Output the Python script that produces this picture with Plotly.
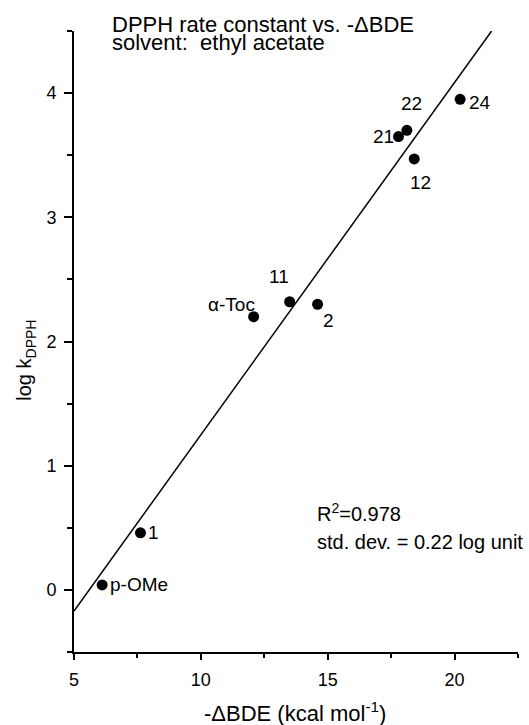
import plotly.graph_objects as go

# ---- data ----
compounds = ["p-OMe", "1", "α-Toc", "11", "2", "21", "22", "12", "24"]
neg_dBDE = [6.11, 7.62, 12.08, 13.50, 14.60, 17.79, 18.12, 18.41, 20.22]
log_k = [0.04, 0.46, 2.20, 2.32, 2.30, 3.65, 3.70, 3.47, 3.95]

fit_x = [5.0, 21.46]
fit_y = [-0.17, 4.50]

x_ticks = [5, 10, 15, 20]
y_ticks = [0, 1, 2, 3, 4]

# ---- label placement (pixel offsets) ----
label_pos = {
    "p-OMe": dict(xanchor="left", xshift=6, yshift=0),
    "1": dict(xanchor="left", xshift=6, yshift=0),
    "α-Toc": dict(xanchor="right", xshift=3, yshift=12),
    "11": dict(xanchor="center", xshift=-11, yshift=25),
    "2": dict(xanchor="center", xshift=11, yshift=-16),
    "21": dict(xanchor="right", xshift=-3, yshift=0),
    "22": dict(xanchor="center", xshift=5, yshift=27),
    "12": dict(xanchor="center", xshift=6, yshift=-24),
    "24": dict(xanchor="left", xshift=7, yshift=-3),
}

FONT = "Liberation Sans, Arial, Helvetica, sans-serif"

fig = go.Figure()
fig.add_trace(go.Scatter(x=fit_x, y=fit_y, mode="lines",
                         line=dict(color="black", width=1.5),
                         hoverinfo="skip", showlegend=False))
fig.add_trace(go.Scatter(x=neg_dBDE, y=log_k, mode="markers",
                         marker=dict(color="black", size=11),
                         showlegend=False, cliponaxis=False))

annotations = []
for name, xv, yv in zip(compounds, neg_dBDE, log_k):
    p = label_pos[name]
    annotations.append(dict(x=xv, y=yv, xref="x", yref="y", text=name,
                            showarrow=False, yanchor="middle",
                            font=dict(family=FONT, size=19, color="black"), **p))

texts = [
    ("DPPH rate constant vs. -ΔBDE", 0.082, 1.010, 22),
    ("solvent:  ethyl acetate", 0.082, 0.981, 22),
    ("R<sup>2</sup>=0.978", 0.543, 0.225, 20),
    ("std. dev. = 0.22 log unit", 0.543, 0.177, 20),
]
for t, xp, yp, fs in texts:
    annotations.append(dict(x=xp, y=yp, xref="paper", yref="paper", text=t,
                            showarrow=False, xanchor="left", yanchor="middle",
                            font=dict(family=FONT, size=fs, color="black")))

# axis titles
annotations.append(dict(x=0.498, y=-0.096, xref="paper", yref="paper",
                        text="-ΔBDE (kcal mol<sup>-1</sup>)", showarrow=False,
                        xanchor="center", yanchor="middle",
                        font=dict(family=FONT, size=22, color="black")))
annotations.append(dict(x=-0.109, y=0.470, xref="paper", yref="paper",
                        text="log k<sub>DPPH</sub>", showarrow=False, textangle=-90,
                        xanchor="center", yanchor="middle",
                        font=dict(family=FONT, size=20, color="black")))

fig.update_layout(
    width=529, height=725,
    margin=dict(l=74, r=11, t=31, b=73, autoexpand=False),
    paper_bgcolor="white", plot_bgcolor="white",
    font=dict(family=FONT, color="black"),
    annotations=annotations,
    xaxis=dict(range=[5, 22.5], showgrid=False, zeroline=False, automargin=False,
               showline=True, linewidth=2, linecolor="black",
               ticks="outside", ticklen=6, tickwidth=1.5, tickcolor="black",
               tickvals=x_ticks, ticklabelstandoff=4,
               tickfont=dict(size=18),
               minor=dict(dtick=2.5, tick0=5, ticks="outside", ticklen=4,
                          tickwidth=1.5, tickcolor="black", showgrid=False)),
    yaxis=dict(range=[-0.5, 4.5], showgrid=False, zeroline=False, automargin=False,
               showline=True, linewidth=2, linecolor="black",
               ticks="outside", ticklen=8, tickwidth=1.5, tickcolor="black",
               tickvals=y_ticks, ticklabelstandoff=4,
               tickfont=dict(size=18),
               minor=dict(dtick=0.5, tick0=0, ticks="outside", ticklen=5,
                          tickwidth=1.5, tickcolor="black", showgrid=False)),
)

fig.write_html("out.html",
               config={"displayModeBar": False},
               post_script="document.body.style.margin='0';document.body.style.overflow='hidden';")
